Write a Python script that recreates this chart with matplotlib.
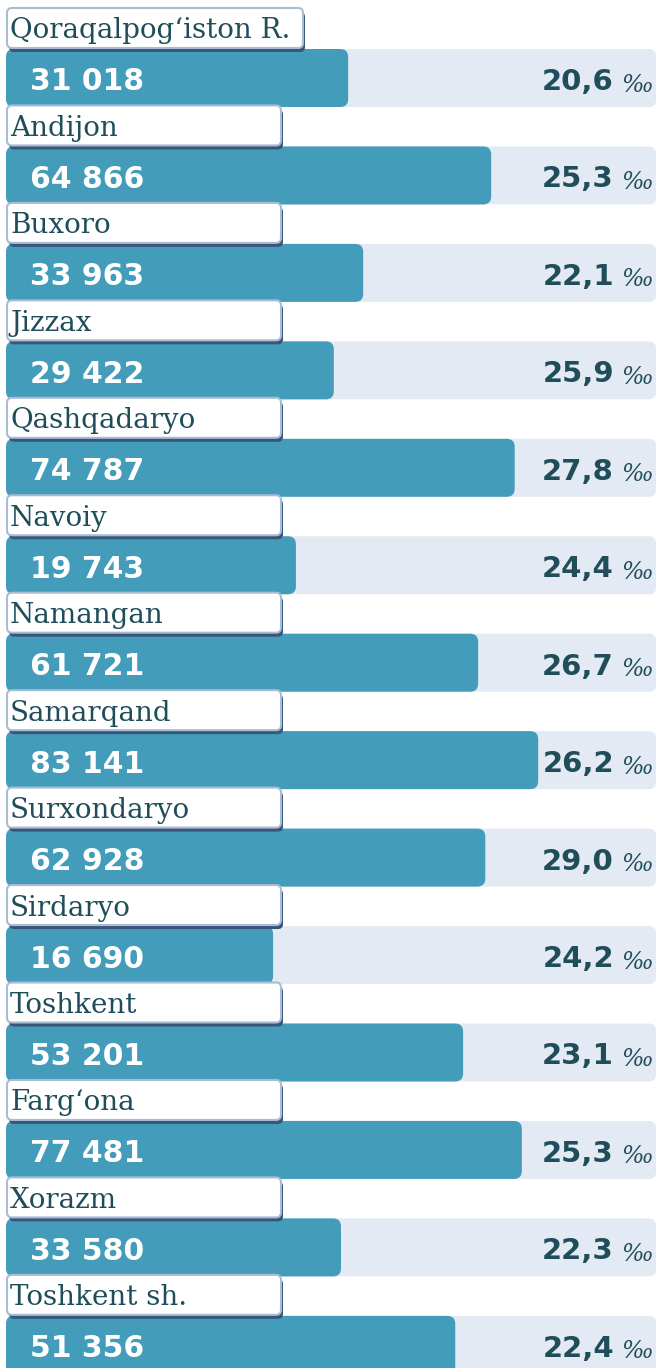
import matplotlib.pyplot as plt
from matplotlib.patches import FancyBboxPatch

regions = ["Qoraqalpog\u2018iston R.", "Andijon", "Buxoro", "Jizzax", "Qashqadaryo",
           "Navoiy", "Namangan", "Samarqand", "Surxondaryo", "Sirdaryo",
           "Toshkent", "Farg\u2018ona", "Xorazm", "Toshkent sh."]
counts = ["31 018", "64 866", "33 963", "29 422", "74 787", "19 743", "61 721",
          "83 141", "62 928", "16 690", "53 201", "77 481", "33 580", "51 356"]
rates = ["20,6", "25,3", "22,1", "25,9", "27,8", "24,4", "26,7",
         "26,2", "29,0", "24,2", "23,1", "25,3", "22,3", "22,4"]
# filled share of each track
bar_share = [0.524, 0.743, 0.547, 0.502, 0.779, 0.444, 0.723,
             0.815, 0.734, 0.409, 0.700, 0.790, 0.513, 0.688]

W, H = 659, 1368
fig = plt.figure(figsize=(W / 100, H / 100), dpi=100)
ax = fig.add_axes([0, 0, 1, 1])
ax.set_xlim(0, W)
ax.set_ylim(H, 0)
ax.axis("off")

bar_col = "#429cba"
track_col = "#e4eaf3"
text_col = "#1f4e5a"

pitch = 97.45
x0 = 6
track_w = 653
bar_h = 58

for i, name in enumerate(regions):
    top = 8 + i * pitch
    btop = top + 41
    # track
    ax.add_patch(FancyBboxPatch((x0, btop), track_w - 3, bar_h,
                                boxstyle="round,pad=0,rounding_size=7",
                                fc=track_col, ec="none", zorder=1))
    # filled bar
    ax.add_patch(FancyBboxPatch((x0, btop), track_w * bar_share[i], bar_h,
                                boxstyle="round,pad=0,rounding_size=8",
                                fc=bar_col, ec="none", zorder=2))
    # label box with shadow
    bw = 296 if i == 0 else 274
    ax.add_patch(FancyBboxPatch((x0 + 3, top + 4), bw, 40,
                                boxstyle="round,pad=0,rounding_size=5",
                                fc="#37567a", ec="none", zorder=3))
    ax.add_patch(FancyBboxPatch((x0 + 1, top), bw, 40,
                                boxstyle="round,pad=0,rounding_size=5",
                                fc="white", ec="#a8bcd4", lw=1.5, zorder=4))
    ax.text(x0 + 4, top + 23, name, family="DejaVu Serif", fontsize=20,
            color=text_col, va="center", ha="left", zorder=5)
    # numbers
    ax.text(30, btop + bar_h / 2 + 4, counts[i], family="DejaVu Sans",
            fontweight="bold", fontsize=21.5, color="white",
            va="center", ha="left", zorder=5)
    ax.text(614, btop + bar_h / 2 + 4, rates[i], family="DejaVu Sans",
            fontweight="bold", fontsize=21, color=text_col,
            va="center", ha="right", zorder=5)
    ax.text(653, btop + bar_h / 2 + 7, "\u2030", family="DejaVu Serif",
            style="italic", fontsize=17, color=text_col,
            va="center", ha="right", zorder=5)

fig.savefig("out.png", dpi=100)
